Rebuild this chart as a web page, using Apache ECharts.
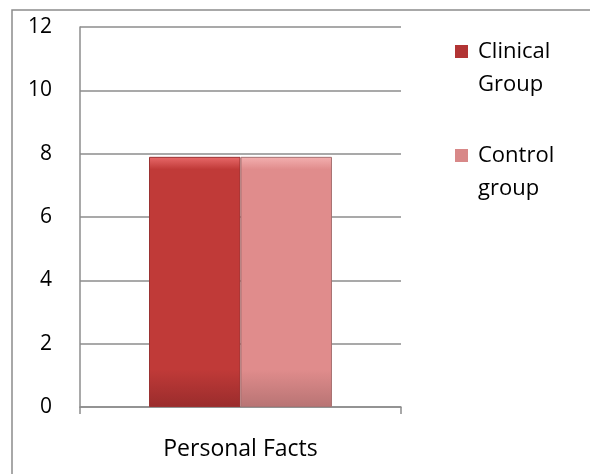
<!DOCTYPE html>
<html><head><meta charset="utf-8">
<script src="https://cdn.jsdelivr.net/npm/echarts@6/dist/echarts.min.js"></script>
<style>html,body{margin:0;padding:0;background:#fff}#c{width:590px;height:474px}</style>
</head><body><div id="c"></div>
<script>
var categories = ['Personal Facts'];
var seriesNames = ['Clinical\nGroup', 'Control\ngroup'];
var clinicalValues = [7.9];
var controlValues = [7.9];
var yTicks = [0, 2, 4, 6, 8, 10, 12];

function grad(top, mid, bot) {
  return new echarts.graphic.LinearGradient(0, 0, 0, 1, [
    {offset: 0, color: top}, {offset: 0.05, color: mid}, {offset: 0.85, color: mid}, {offset: 1, color: bot}
  ]);
}
var chart = echarts.init(document.getElementById('c'), null, {renderer: 'canvas'});
var font = '"Open Sans", "Liberation Sans", sans-serif';
// legend marker square sits beside the first text line
var legendIcon = 'path://M0,0 L0,0 M0,10 L13,10 L13,23 L0,23 Z M0,66 L0,66';
chart.setOption({
  animation: false,
  graphic: [{type: 'rect', shape: {x: 12, y: 10, width: 700, height: 600}, style: {fill: 'none', stroke: '#8c8c8c', lineWidth: 1.5}, z: -1}],
  grid: {left: 80, top: 27, width: 321, height: 380},
  legend: {
    orient: 'vertical', left: 450, top: 30, itemGap: 38, itemWidth: 13, itemHeight: 66,
    icon: legendIcon,
    itemStyle: {borderWidth: 0},
    textStyle: {fontFamily: font, fontSize: 22, color: '#000', lineHeight: 33, padding: [0, 0, 0, 5]},
    data: [
      {name: seriesNames[0], itemStyle: {color: '#b23434'}},
      {name: seriesNames[1], itemStyle: {color: '#d88888'}}
    ]
  },
  xAxis: {
    type: 'category', data: categories,
    axisLine: {lineStyle: {color: '#8c8c8c', width: 1.5}},
    axisTick: {show: true, alignWithLabel: false, length: 7, lineStyle: {color: '#8c8c8c', width: 1.5}},
    axisLabel: {fontFamily: font, fontSize: 23, color: '#000', margin: 31}
  },
  yAxis: {
    type: 'value', min: yTicks[0], max: yTicks[yTicks.length - 1], interval: 2,
    axisLine: {show: true, lineStyle: {color: '#8c8c8c', width: 1.5}},
    axisTick: {show: false},
    splitLine: {lineStyle: {color: '#8c8c8c', width: 1.5}},
    axisLabel: {fontFamily: font, fontSize: 21, color: '#000', margin: 28}
  },
  series: [
    {name: seriesNames[0], type: 'bar', data: clinicalValues, barGap: '0%', barCategoryGap: '43%',
     itemStyle: {color: grad('#e86a6a', '#c03a38', '#9a2c2c'), borderColor: '#9a3232', borderWidth: 1}},
    {name: seriesNames[1], type: 'bar', data: controlValues,
     itemStyle: {color: grad('#f3b0b0', '#e08c8c', '#b87474'), borderColor: '#a87272', borderWidth: 1}}
  ]
});
</script></body></html>
